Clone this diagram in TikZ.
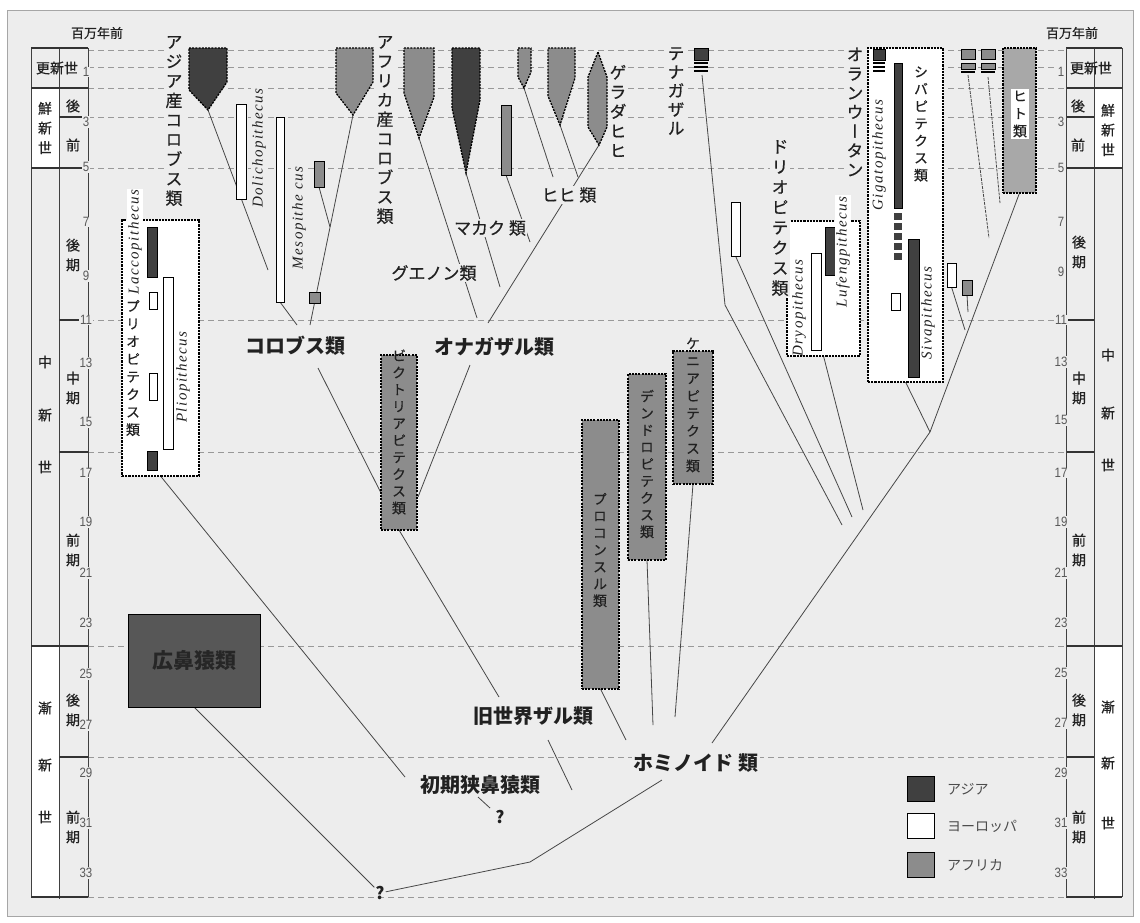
\documentclass[tikz,border=0pt]{standalone}
\usepackage{fontspec}
\setmainfont{Liberation Sans}
\newfontfamily\jp{Noto Sans CJK JP}
\newfontfamily\jpm[FakeBold=0.5]{Noto Sans CJK JP}
\newfontfamily\vjp[RawFeature=+vert,FakeBold=0.5]{Noto Sans CJK JP}
\newfontfamily\itl[LetterSpace=10]{Liberation Serif}
\newfontfamily\numf[FakeStretch=0.85]{Liberation Sans}
\ExplSyntaxOn
\NewDocumentCommand\vt{O{1.15}m}{
  \vbox{\baselineskip=#1em\relax\lineskip=0pt\relax\lineskiplimit=-100pt\relax
    \tl_map_inline:nn {#2} {\hbox to 1.1em{\hss##1\hss}}}
}
\ExplSyntaxOff
\definecolor{bgc}{gray}{0.93}
\definecolor{asiac}{gray}{0.25}
\definecolor{afrc}{gray}{0.55}
\definecolor{humc}{gray}{0.66}
\definecolor{platc}{gray}{0.34}
\definecolor{dashc}{gray}{0.6}
\definecolor{linec}{gray}{0.28}
\definecolor{txtc}{gray}{0.13}
\pgfdeclarelayer{back}
\pgfdeclarelayer{lines}
\pgfsetlayers{back,lines,main}
\tikzset{
  rbox/.style args={#1/#2/#3/#4}{anchor=north west, minimum width={#3-#1}, minimum height={#4-#2}, inner sep=0pt, outer sep=0pt, at={(#1,#2)}},
  eur/.style={fill=white, draw=black, line width=1pt},
  asia/.style={fill=asiac, draw=black, line width=1pt},
  afr/.style={fill=afrc, draw=black, line width=1pt},
  dbord/.style={draw=black, dash pattern=on 2pt off 1.2pt, line width=1.3pt},
  hbord/.style={draw=black, dash pattern=on 2.2pt off 1pt, line width=2.2pt},
  shapeA/.style={fill=asiac, dbord},
  shapeF/.style={fill=afrc, dbord},
  con/.style={draw=linec, line width=0.8pt},
  dl/.style={draw=dashc, dash pattern=on 6pt off 4pt, line width=0.8pt},
  tl/.style={draw=black!75, line width=1pt},
  tth/.style={draw=black!80, line width=1.6pt},
  numl/.style={font=\numf\fontsize{13.5}{13.5}\selectfont, text=black!65, fill=bgc, inner sep=0.8pt},
  tcell/.style={font=\jpm\fontsize{14}{16}\selectfont, text=txtc, inner sep=0pt},
  vcell/.style={font=\vjp\fontsize{14}{16}\selectfont, text=txtc, inner sep=0pt},
  lab/.style={font=\jpm\fontsize{17}{20}\selectfont, text=txtc, inner sep=1pt, fill=bgc},
  big/.style={font=\jp\bfseries\fontsize{20}{24}\selectfont, text=txtc, inner sep=1.5pt, fill=bgc},
  vlab/.style={font=\vjp\fontsize{17}{19}\selectfont, text=txtc, inner sep=1pt, fill=bgc},
  vsm/.style={font=\vjp\fontsize{14}{17}\selectfont, text=txtc, inner sep=0.5pt},
  ital/.style={font=\itl\itshape\fontsize{15}{15}\selectfont, text=txtc, inner sep=1pt, rotate=90},
  legl/.style={font=\jp\fontsize{14}{16}\selectfont, text=black!70, anchor=west, inner sep=0pt},
}
\begin{document}
\begin{tikzpicture}[x=1pt,y=-1pt]
\useasboundingbox (0,0) rectangle (1140,922);
\begin{pgfonlayer}{back}
\fill[white] (0,0) rectangle (1140,922);
\draw[draw=gray!70, fill=bgc, line width=1pt] (7,10) rectangle (1133,916);
\foreach \y in {50,67,88,117,168,320,452,646,757,897} \draw[dl] (88,\y) -- (1066,\y);
% left table
\fill[white] (31,88) rectangle (59,168);
\fill[white] (31,646) rectangle (59,897);
\draw[tl] (31,48) -- (31,897) (59,48) -- (59,899);
\draw[tth] (31,48) -- (88,48) (31,88) -- (88,88) (31,168) -- (88,168) (31,646) -- (88,646) (31,897) -- (88,897)
  (59,117) -- (88,117) (59,320) -- (88,320) (59,452) -- (88,452) (59,757) -- (88,757);
\draw[tl] (88,48) -- (88,897);
% right table
\fill[white] (1094,88) rectangle (1122,168);
\fill[white] (1094,646) rectangle (1122,897);
\draw[tl] (1122,48) -- (1122,897) (1094,48) -- (1094,899);
\draw[tth] (1066,48) -- (1122,48) (1066,88) -- (1122,88) (1066,168) -- (1122,168) (1066,646) -- (1122,646) (1066,897) -- (1122,897)
  (1066,117) -- (1094,117) (1066,320) -- (1094,320) (1066,452) -- (1094,452) (1066,757) -- (1094,757);
\draw[tl] (1066,48) -- (1066,897);
\end{pgfonlayer}

% scale numbers
\foreach \n/\y in {1/72,3/122,5/167,7/222,9/276,11/320,13/363,15/422,17/473,19/522,21/573,23/623,25/674,27/725,29/773,31/823,33/873}
  \node[numl] (ln\n) at (86,\y) {\n};
\foreach \n/\y in {1/72,3/122,5/168,7/222,9/272,11/320,13/362,15/420,17/473,19/522,21/573,23/623,25/673,27/723,29/773,31/823,33/873}
  \node[numl] (rn\n) at (1061,\y) {\n};
\node[font=\jpm\fontsize{13}{13}\selectfont, text=txtc] (lmy) at (97,33) {百万年前};
\node[font=\jpm\fontsize{13}{13}\selectfont, text=txtc] (rmy) at (1072,33) {百万年前};
% left table labels
\node[tcell] (lple) at (57,68) {更新世};
\node[vcell] (lpli) at (45,128) {\vt[1.4]{鮮新世}};
\node[tcell] (lplu) at (73,106) {後};
\node[tcell] (lpll) at (73,145) {前};
\node[tcell] (lmi1) at (45,362) {中};
\node[tcell] (lmi2) at (45,415) {新};
\node[tcell] (lmi3) at (45,467) {世};
\node[vcell] (lmiu) at (73,255) {\vt[1.4]{後期}};
\node[vcell] (lmim) at (73,388) {\vt[1.4]{中期}};
\node[vcell] (lmil) at (73,550) {\vt[1.4]{前期}};
\node[tcell] (lol1) at (45,708) {漸};
\node[tcell] (lol2) at (45,765) {新};
\node[tcell] (lol3) at (45,817) {世};
\node[vcell] (lolu) at (73,710) {\vt[1.4]{後期}};
\node[vcell] (loll) at (73,827) {\vt[1.4]{前期}};
% right table labels
\node[tcell] (rple) at (1091,68) {更新世};
\node[vcell] (rpli) at (1108,130) {\vt[1.4]{鮮新世}};
\node[tcell] (rplu) at (1078,106) {後};
\node[tcell] (rpll) at (1078,145) {前};
\node[tcell] (rmi1) at (1108,355) {中};
\node[tcell] (rmi2) at (1108,413) {新};
\node[tcell] (rmi3) at (1108,465) {世};
\node[vcell] (rmiu) at (1079,252) {\vt[1.4]{後期}};
\node[vcell] (rmim) at (1079,388) {\vt[1.4]{中期}};
\node[vcell] (rmil) at (1079,550) {\vt[1.4]{前期}};
\node[tcell] (rol1) at (1108,707) {漸};
\node[tcell] (rol2) at (1108,763) {新};
\node[tcell] (rol3) at (1108,823) {世};
\node[vcell] (rolu) at (1079,710) {\vt[1.4]{後期}};
\node[vcell] (roll) at (1079,827) {\vt[1.4]{前期}};

% ---------- Old World monkeys: top shapes ----------
\draw[shapeA] (189,48) -- (227,48) -- (227,82) -- (208,110) -- (189,90) -- cycle;
\coordinate (acolT) at (208,110);
\draw[shapeF] (336,48) -- (373,48) -- (373,82) -- (353,115) -- (336,93) -- cycle;
\coordinate (fcolT) at (353,115);
\draw[shapeF] (404,48) -- (434,48) -- (434,97) -- (419,138) -- (404,93) -- cycle;
\coordinate (guenT) at (419,138);
\draw[shapeA] (452,48) -- (480,48) -- (480,100) -- (466,173) -- (452,108) -- cycle;
\coordinate (macT) at (466,173);
\draw[shapeF] (518,48) -- (531,48) -- (531,72) -- (524,88) -- (518,77) -- cycle;
\coordinate (bab1T) at (524,88);
\draw[shapeF] (548,48) -- (575,48) -- (575,78) -- (560,125) -- (548,96) -- cycle;
\coordinate (bab2T) at (560,125);
\draw[shapeF] (598,52) -- (607,77) -- (607,127) -- (599,145) -- (588,127) -- (588,77) -- cycle;
\coordinate (gelT) at (599,145);

\node[eur, rbox=236/104/246/199] (dol) {};
\node[eur, rbox=276/117/284/302] (meso) {};
\node[afr, rbox=314/161/324/187] (mesoA) {};
\node[afr, rbox=309/292/320/303] (mesoB) {};
\node[afr, rbox=501/105/511/175] (macbar) {};

\node[vlab] (lasc) at (174,121) {\vt{アジア産コロブス類}};
\node[vlab] (lafc) at (385,130) {\vt[1.14]{アフリカ産コロブス類}};
\node[vlab] (lgel) at (618,111) {\vt{ゲラダヒヒ}};
\node[ital, fill=bgc] (ldol) at (259,148) {Dolichopithecus};
\node[ital, fill=bgc] (lmes) at (299,218) {Mesopithe cus};

\node[lab] (lgue) at (434,273) {グエノン類};
\node[lab] (lmac) at (490,228) {マカク 類};
\node[lab] (lbab) at (569,195) {ヒヒ 類};
\node[big] (lcol) at (295,346) {コロブス類};
\node[big] (lcer) at (494,347) {オナガザル類};
\node[big] (lows) at (533,716) {旧世界ザル類};

% ---------- Pliopithecus ----------
\node[fill=white, hbord, rbox=122/220/199/476] (plio) {};
\node[asia, rbox=147/227/157/277] (lacb) {};
\node[eur, rbox=149/292/157/309] (pw1) {};
\node[eur, rbox=149/373/157/400] (pw2) {};
\node[asia, rbox=147/451/157/470] (pd2) {};
\node[eur, rbox=163/277/173/449] (pliob) {};
\node[ital, fill=white] (llac) at (135,242) {Laccopithecus};
\node[ital] (lpli) at (183,377) {Pliopithecus};
\node[vsm] (lplg) at (133,368) {\vt[1.26]{プリオピテクス類}};

% ---------- Victoria etc ----------
\node[fill=afrc, dbord, rbox=381/355/417/530] (vic) {};
\node[vsm] (lvic) at (399,432) {\vt[1.21]{ビクトリアピテクス類}};
\node[fill=afrc, dbord, rbox=582/420/619/689] (pro) {};
\node[vsm] (lpro) at (600,550) {\vt[1.21]{プロコンスル類}};
\node[fill=afrc, dbord, rbox=628/374/666/560] (den) {};
\node[vsm] (lden) at (647,464) {\vt[1.21]{デンドロピテクス類}};
\node[fill=afrc, dbord, rbox=673/351/713/484] (ken) {};
\node[vsm] (lken) at (693,405) {\vt[1.25]{ケニアピテクス類}};

% ---------- Hominoids right ----------
\node[asia, rbox=694/48/708/60] (gib) {};
\draw[black, line width=1.3pt] (694,63) -- (708,63) (694,67) -- (708,67) (694,71) -- (708,71);
\coordinate (gibT) at (702,75);
\node[vlab] (lgib) at (676,91) {\vt[1.1]{テナガザル}};
\node[eur, rbox=731/202/740/256] (eurb) {};
\node[fill=white, hbord, rbox=787/221/860/356] (dry) {};
\node[eur, rbox=811/253/821/350] (dryb) {};
\node[asia, rbox=825/227/835/275] (luf) {};
\node[ital] (ldry) at (799,308) {Dryopithecus};
\node[ital, fill=white] (lluf) at (843,252) {Lufengpithecus};
\node[vlab] (ldrg) at (780,218) {\vt[1.19]{ドリオピテクス類}};

\node[fill=white, hbord, rbox=868/48/943/382] (siv) {};
\node[asia, rbox=873/49/885/60] (gig) {};
\draw[black, line width=1.3pt] (873,63) -- (885,63) (873,67) -- (885,67) (873,71) -- (885,71);
\node[asia, rbox=894/63/902/208] (gigb) {};
\foreach \yy in {213,223,233,243,253} \fill[asiac] (894,\yy) rectangle (902,\yy+7);
\node[asia, rbox=908/239/919/377] (sivb) {};
\node[eur, line width=0.8pt, rbox=891/293/900/310] (sivw) {};
\node[ital] (lgig) at (879,155) {Gigatopithecus};
\node[ital] (lsiv) at (928,313) {Sivapithecus};
\node[vsm] (lsig) at (921,124) {\vt[1.23]{シバピテクス類}};
\node[vlab] (lora) at (855,112) {\vt[1.13]{オランウータン}};

\node[afr, rbox=961/49/975/59] (g1a) {};
\node[afr, rbox=961/63/975/69] (g1b) {};
\draw[black, line width=2pt] (961,72) -- (975,72);
\node[afr, rbox=981/49/995/59] (g2a) {};
\node[afr, rbox=981/63/995/69] (g2b) {};
\draw[black, line width=2pt] (981,72) -- (995,72);
\node[fill=humc, hbord, rbox=1003/48/1036/193] (hom) {};
\node[fill=white, inner sep=1.5pt, font=\vjp\fontsize{14}{17}\selectfont, text=txtc] (lhom) at (1020,114) {\vt[1.25]{ヒト類}};
\node[eur, rbox=947/263/956/287] (hw) {};
\node[afr, rbox=962/280/972/295] (hg) {};

\node[big] (lhmn) at (696,763) {ホミノイド 類};
\node[big] (lcat) at (480,785) {初期狭鼻猿類};
\node[fill=platc, draw=black, line width=1pt, rbox=128/614/260/707] (pla) {};
\node[font=\jp\bfseries\fontsize{21}{24}\selectfont, text=black!85] (lpla) at (194,660) {広鼻猿類};
\node[font=\jp\bfseries\fontsize{17}{20}\selectfont, text=txtc, inner sep=1pt] (q1) at (380,893) {?};
\node[font=\jp\bfseries\fontsize{17}{20}\selectfont, text=txtc, inner sep=1pt] (q2) at (500,817) {?};

% legend
\node[asia, rbox=907/776/934/801] (leg1) {};
\node[eur, rbox=907/813/934/838] (leg2) {};
\node[afr, rbox=907/852/934/877] (leg3) {};
\node[legl] (legt1) at (947,789) {アジア};
\node[legl] (legt2) at (947,826) {ヨーロッパ};
\node[legl] (legt3) at (947,865) {アフリカ};

% ---------- connectors ----------
\coordinate (j1) at (268,270);
\coordinate (j2) at (297,325);
\coordinate (j3) at (310,325);
\coordinate (j4) at (330,227);
\coordinate (colB) at (318,368);
\coordinate (vicL) at (382,495);
\coordinate (guenE) at (477,318);
\coordinate (cerS) at (488,323);
\coordinate (macE) at (500,287);
\coordinate (macbE) at (530,242);
\coordinate (bab1E) at (553,177);
\coordinate (bab2E) at (578,177);
\coordinate (cerB) at (470,365);
\coordinate (vicR) at (418,497);
\coordinate (owsT) at (499,697);
\coordinate (owsB) at (548,740);
\coordinate (owsE) at (572,790);
\coordinate (proE) at (626,740);
\coordinate (denE) at (653,725);
\coordinate (kenE) at (675,717);
\coordinate (hmnR) at (712,743);
\coordinate (hj) at (930,432);
\coordinate (gibK) at (725,305);
\coordinate (gibE) at (842,525);
\coordinate (eurE) at (852,517);
\coordinate (dryE) at (863,510);
\coordinate (hwE) at (965,330);
\coordinate (hgE) at (968,312);
\coordinate (g1E) at (989,238);
\coordinate (g2E) at (1000,203);
\coordinate (hmnL) at (662,780);
\coordinate (cj) at (530,862);
\coordinate (plioE) at (405,777);
\coordinate (catE1) at (478,797);
\coordinate (catE2) at (490,808);
\begin{pgfonlayer}{lines}
\draw[con] (acolT) -- (j1);
\draw[con] (meso.south) -- (j2);
\draw[con] (fcolT) -- (j3);
\draw[con] (mesoA.south) -- (j4);
\draw[con] (colB) -- (vicL);
\draw[con] (guenT) -- (guenE);
\draw[con] (cerS) -- (gelT);
\draw[con] (macT) -- (macE);
\draw[con] (macbar.south) -- (macbE);
\draw[con] (bab1T) -- (bab1E);
\draw[con] (bab2T) -- (bab2E);
\draw[con] (cerB) -- (vicR);
\draw[con] (vic.south) -- (owsT);
\draw[con] (owsB) -- (owsE);
\draw[con] (pro.south) -- (proE);
\draw[con] (den.south) -- (denE);
\draw[con] (ken.south) -- (kenE);
\draw[con] (hmnR) -- (hj) -- (hom.south);
\draw[con] (siv.south) -- (hj);
\draw[con] (gibT) -- (gibK) -- (gibE);
\draw[con] (eurb.south) -- (eurE);
\draw[con] (dry.south) -- (dryE);
\draw[con] (hw.south) -- (hwE);
\draw[con] (hg.south) -- (hgE);
\draw[con, dash pattern=on 3pt off 1pt] (968,75) -- (g1E);
\draw[con, dash pattern=on 3pt off 1pt] (988,77) -- (g2E);
\draw[con] (hmnL) -- (cj) -- (q1);
\draw[con] (plio.south) -- (plioE);
\draw[con] (catE1) -- (catE2);
\draw[con] (pla.south) -- (q1);
\end{pgfonlayer}
\end{tikzpicture}
\end{document}
